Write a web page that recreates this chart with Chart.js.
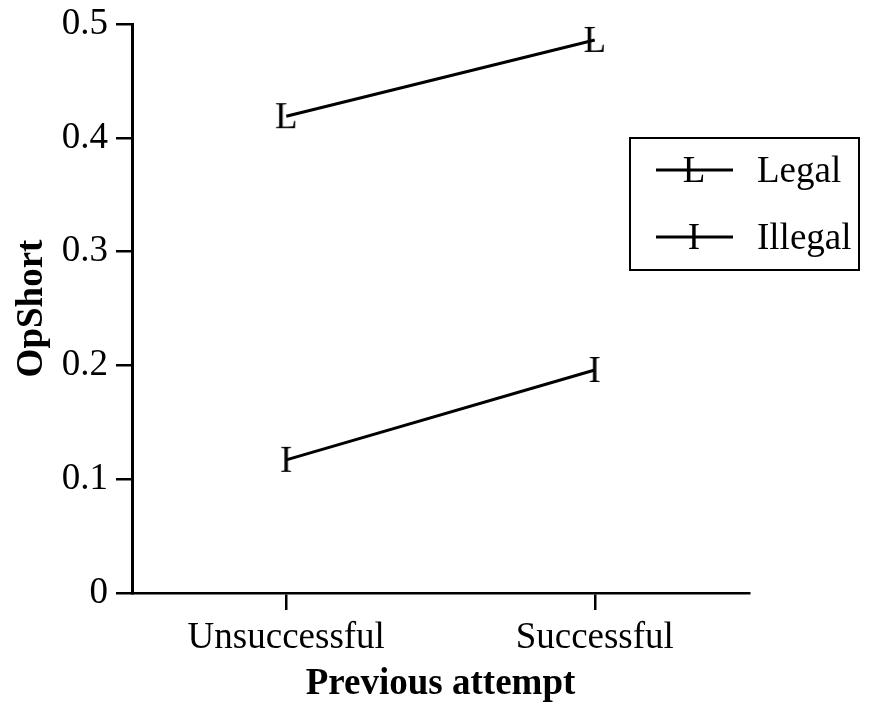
<!DOCTYPE html>
<html>
<head>
<meta charset="utf-8">
<script src="https://cdn.jsdelivr.net/npm/chart.js@4.4.0/dist/chart.umd.min.js"></script>
<style>
  html, body { margin: 0; padding: 0; background: #fff; }
  #wrap { width: 875px; height: 707px; position: relative; }
</style>
</head>
<body>
<div id="wrap"><canvas id="c"></canvas></div>
<script>
// ---- data ----
const categories = ["Unsuccessful", "Successful"];
const seriesNames = ["Legal", "Illegal"];
const seriesMarkers = ["L", "I"];
const legalValues = [0.419, 0.486];
const illegalValues = [0.117, 0.196];
const yTicks = [0, 0.1, 0.2, 0.3, 0.4, 0.5];
const xTitle = "Previous attempt";
const yTitle = "OpShort";

const FONT = '"Liberation Serif", "Times New Roman", Times, serif';
const FS = 37;

function letterMarker(ch) {
  const c = document.createElement('canvas');
  c.width = 40; c.height = 40;
  const g = c.getContext('2d');
  g.fillStyle = '#000';
  g.font = FS + 'px ' + FONT;
  g.textAlign = 'center';
  g.textBaseline = 'alphabetic';
  g.fillText(ch, 20, 20 + Math.round(FS * 0.662 / 2));
  return c;
}

const markers = seriesMarkers.map(letterMarker);
const values = [legalValues, illegalValues];

const boxLegend = {
  id: 'boxLegend',
  afterDraw(chart) {
    const ctx = chart.ctx;
    ctx.save();
    ctx.strokeStyle = '#000';
    ctx.lineWidth = 2;
    ctx.strokeRect(630, 138, 229, 132);
    chart.data.datasets.forEach((ds, i) => {
      const y = 170 + i * 67;
      ctx.beginPath();
      ctx.lineWidth = 3;
      ctx.moveTo(656, y);
      ctx.lineTo(733, y);
      ctx.stroke();
      const img = ds.pointStyle;
      ctx.drawImage(img, 694 - img.width / 2, y - img.height / 2);
      ctx.fillStyle = '#000';
      ctx.font = FS + 'px ' + FONT;
      ctx.textAlign = 'left';
      ctx.textBaseline = 'alphabetic';
      ctx.fillText(ds.label, 757, y + Math.round(FS * 0.662 / 2));
    });
    ctx.restore();
  }
};

new Chart(document.getElementById('c'), {
  type: 'line',
  data: {
    labels: categories,
    datasets: seriesNames.map((name, i) => ({
      label: name,
      data: values[i],
      borderColor: '#000',
      backgroundColor: '#000',
      borderWidth: 3,
      pointStyle: markers[i],
      pointRadius: 5,
      pointHoverRadius: 5,
      fill: false,
      tension: 0,
      clip: false
    }))
  },
  options: {
    responsive: true,
    maintainAspectRatio: false,
    animation: false,
    events: [],
    layout: { padding: { top: 24, right: 126, left: 0, bottom: 0 } },
    plugins: {
      legend: { display: false },
      tooltip: { enabled: false }
    },
    scales: {
      x: {
        type: 'category',
        offset: true,
        afterFit(s) { s.height = 114; },
        grid: {
          offset: false,
          drawOnChartArea: false,
          drawTicks: true,
          tickLength: 17,
          tickColor: '#000',
          lineWidth: 2.5
        },
        border: { display: true, color: '#000', width: 2.5 },
        ticks: {
          color: '#000',
          font: { family: FONT, size: FS },
          padding: 6,
          maxRotation: 0
        },
        title: {
          display: true,
          text: xTitle,
          color: '#000',
          font: { family: FONT, size: FS, weight: 'bold' },
          padding: { top: 0, bottom: 0 }
        }
      },
      y: {
        min: 0,
        max: 0.5,
        afterFit(s) { s.width = 132; s.paddingTop = 0; s.paddingBottom = 0; },
        afterBuildTicks(s) { s.ticks = yTicks.map(v => ({ value: v })); },
        grid: {
          drawOnChartArea: false,
          drawTicks: true,
          tickLength: 16,
          tickColor: '#000',
          lineWidth: 2.5
        },
        border: { display: true, color: '#000', width: 3 },
        ticks: {
          color: '#000',
          font: { family: FONT, size: FS },
          padding: 8,
          callback: v => (v === 0 ? '0' : v.toFixed(1))
        },
        title: {
          display: true,
          text: yTitle,
          color: '#000',
          font: { family: FONT, size: FS, weight: 'bold' },
          padding: { top: 10, bottom: 0 }
        }
      }
    }
  },
  plugins: [boxLegend]
});
</script>
</body>
</html>
